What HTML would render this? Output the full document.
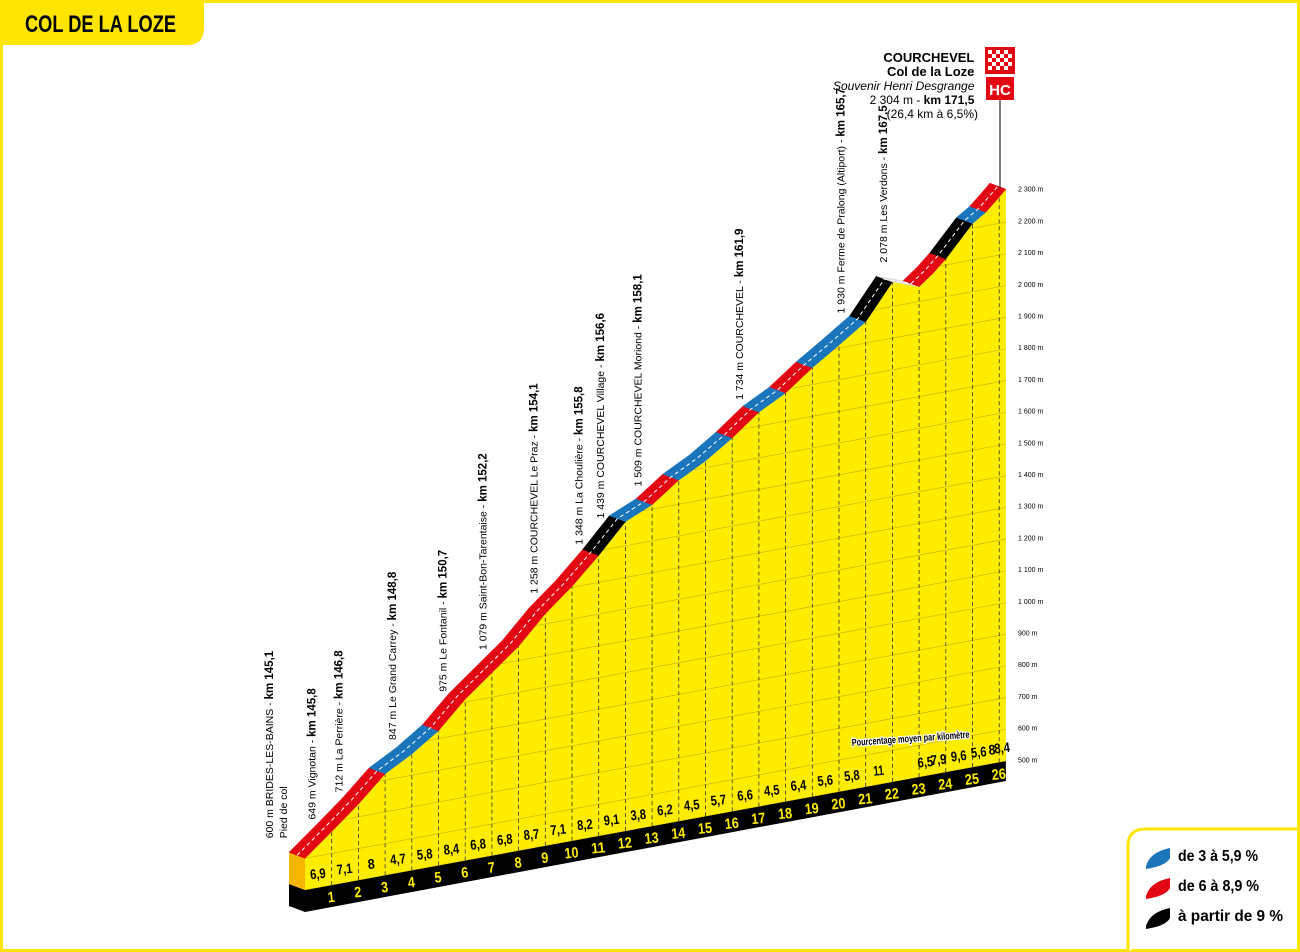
<!DOCTYPE html>
<html><head><meta charset="utf-8"><style>
html,body{margin:0;padding:0;background:#fff;}
svg{display:block;}
text{font-family:"Liberation Sans",sans-serif;}
.n{font-family:"Liberation Sans Narrow","Liberation Sans",sans-serif;font-weight:bold;}
</style></head><body>
<svg id="chart" width="1300" height="952" viewBox="0 0 1300 952" xmlns="http://www.w3.org/2000/svg">
<rect x="1.5" y="1.5" width="1297" height="949" fill="none" stroke="#ffe500" stroke-width="3"/>
<g>
<path d="M0,0 H204 V28 Q204,45 187,45 H0 Z" fill="#ffe500"/>
<text x="25" y="32" class="n" font-size="24" fill="#000" textLength="151" lengthAdjust="spacingAndGlyphs">COL DE LA LOZE</text>
</g>
<g id="profile"></g>
<g id="annot"></g>
<g>
<line x1="1000" y1="100" x2="1000" y2="188" stroke="#000" stroke-width="1"/>
<g>
<rect x="985" y="47" width="30" height="27" fill="#e30613"/>
<g fill="#fff">
<rect x="988" y="50" width="4" height="4"/><rect x="996" y="50" width="4" height="4"/><rect x="1004" y="50" width="4" height="4"/>
<rect x="992" y="54" width="4" height="4"/><rect x="1000" y="54" width="4" height="4"/><rect x="1008" y="54" width="4" height="4"/>
<rect x="988" y="58" width="4" height="4"/><rect x="996" y="58" width="4" height="4"/><rect x="1004" y="58" width="4" height="4"/>
<rect x="992" y="62" width="4" height="4"/><rect x="1000" y="62" width="4" height="4"/><rect x="1008" y="62" width="4" height="4"/>
<rect x="988" y="66" width="4" height="4"/><rect x="996" y="66" width="4" height="4"/><rect x="1004" y="66" width="4" height="4"/>
</g>
</g>
<g>
<rect x="986" y="77" width="28" height="23" fill="#e30613"/>
<text x="1000" y="95" text-anchor="middle" class="n" font-size="15" fill="#fff">HC</text>
</g>
<text text-anchor="end" font-size="13">
<tspan x="978" y="62" font-weight="bold">COURCHEVEL</tspan>
<tspan x="978" y="76" font-weight="bold">Col de la Loze</tspan>
<tspan x="978" y="90" font-style="italic" font-size="12">Souvenir Henri Desgrange</tspan>
<tspan x="978" y="104" font-size="12">2 304 m - <tspan font-weight="bold">km 171,5</tspan></tspan>
<tspan x="978" y="118" font-size="12">(26,4 km à 6,5%)</tspan>
</text>
</g>
<g>
<path d="M1128,952 V846 Q1128,829 1146,829 H1300" fill="#fff" stroke="#ffe500" stroke-width="3"/>
<path d="M1146,866 Q1150,852 1170,848 L1170,858 Q1166,866 1146,869 Z" fill="#1b75bb"/>
<text x="1178" y="861" class="n" font-size="16" textLength="80" lengthAdjust="spacingAndGlyphs">de 3 à 5,9 %</text>
<path d="M1146,896 Q1150,882 1170,878 L1170,888 Q1166,896 1146,899 Z" fill="#e30613"/>
<text x="1178" y="891" class="n" font-size="16" textLength="81" lengthAdjust="spacingAndGlyphs">de 6 à 8,9 %</text>
<path d="M1146,926 Q1150,912 1170,908 L1170,918 Q1166,926 1146,929 Z" fill="#000"/>
<text x="1178" y="921" class="n" font-size="16" textLength="105" lengthAdjust="spacingAndGlyphs">à partir de 9 %</text>
</g>
</svg>
<script>
// ---- data ----
const segLengths = [1,1,1,1,1,1,1,1,1,1,1,1,1,1,1,1,1,1,1,1,1,1,1,0.5,0.5,1,0.5,0.5,0.25];
const segGrades  = [6.9,7.1,8,4.7,5.8,8.4,6.8,6.8,8.7,7.1,8.2,9.1,3.8,6.2,4.5,5.7,6.6,4.5,6.4,5.6,5.8,11,-3,6.5,7.9,9.6,5.6,8,8.4];
const startElev = 600;
const elevTicks = [500,600,700,800,900,1000,1100,1200,1300,1400,1500,1600,1700,1800,1900,2000,2100,2200,2300];
const kmTicks = [1,2,3,4,5,6,7,8,9,10,11,12,13,14,15,16,17,18,19,20,21,22,23,24,25,26];
const places = [
 ["600 m BRIDES-LES-BAINS - ","km 145,1",0,"Pied de col"],
 ["649 m Vignotan - ","km 145,8",0.7,""],
 ["712 m La Perrière - ","km 146,8",1.7,""],
 ["847 m Le Grand Carrey - ","km 148,8",3.7,""],
 ["975 m Le Fontanil - ","km 150,7",5.6,""],
 ["1 079 m Saint-Bon-Tarentaise - ","km 152,2",7.1,""],
 ["1 258 m COURCHEVEL Le Praz - ","km 154,1",9.0,""],
 ["1 348 m La Choulière - ","km 155,8",10.7,""],
 ["1 439 m COURCHEVEL Village - ","km 156,6",11.5,""],
 ["1 509 m COURCHEVEL Moriond - ","km 158,1",12.9,""],
 ["1 734 m COURCHEVEL - ","km 161,9",16.7,""],
 ["1 930 m Ferme de Pralong (Altiport) - ","km 165,7",20.5,""],
 ["2 078 m Les Verdons - ","km 167,5",22.1,""]
];
// ---- scales ----
const X0=305, PXKM=26.7, YB0=890, SLOPE=0.184, PXM=0.317, OX=-16, OY=-6;
const kx = d => X0 + d*PXKM;
const yb = x => YB0 - (x-X0)*SLOPE;
const ye = (d,e) => yb(kx(d)) - (e-500)*PXM;
const NS="http://www.w3.org/2000/svg";
function mk(tag, attrs, parent){const el=document.createElementNS(NS,tag);for(const k in attrs)el.setAttribute(k,attrs[k]);parent.appendChild(el);return el;}
const g=document.getElementById('profile');
const pts=[[0,startElev]]; let d=0,e=startElev;
for(let i=0;i<segLengths.length;i++){d+=segLengths[i];e+=segLengths[i]*segGrades[i]*10;pts.push([d,e]);}
const D=d;
const P=pts.map(p=>[kx(p[0]),ye(p[0],p[1])]);
const xe=kx(D);
const base=mk('polygon',{points:`${X0},${yb(X0)} ${xe},${yb(xe)} ${xe},${yb(xe)+20} ${X0},${yb(X0)+22} ${X0+OX},${yb(X0)+22+OY} ${X0+OX},${yb(X0)+OY}`,fill:'#000'},g);


const side=mk('polygon',{points:`${X0},${P[0][1]} ${X0},${yb(X0)} ${X0+OX},${yb(X0)+OY} ${X0+OX},${P[0][1]+OY}`,fill:'#f7b500'},g);


let facePts=P.map(p=>p.join(',')).join(' ')+` ${xe},${yb(xe)} ${X0},${yb(X0)}`;
const defs=mk('defs',{},g);
const cp=mk('clipPath',{id:'faceclip'},defs);
mk('polygon',{points:facePts},cp);
const face=mk('polygon',{points:facePts,fill:'#ffed00'},g);


const grid=mk('g',{'clip-path':'url(#faceclip)'},g);
elevTicks.forEach(t=>{
 const l=mk('line',{x1:X0,y1:yb(X0)-(t-500)*PXM,x2:xe,y2:yb(xe)-(t-500)*PXM,stroke:'#c9b800','stroke-width':0.7},grid);
 
 
});
kmTicks.forEach(k=>{ if(k>D) return;
 const x=kx(k);
 const l=mk('line',{x1:x,y1:yb(x),x2:x,y2:150,stroke:'#333','stroke-width':0.8,'stroke-dasharray':'4,3'},grid);
 
 
});
for(let i=0;i<segGrades.length;i++){
 const gr=segGrades[i];
 const col= gr<0?'#ddd': gr>=9?'#000': gr>=6?'#e30613': gr>=3?'#1b75bb':'#bbb';
 const a=P[i],b=P[i+1];
 const s=mk('polygon',{points:`${a[0]},${a[1]} ${b[0]},${b[1]} ${b[0]+OX},${b[1]+OY} ${a[0]+OX},${a[1]+OY}`,fill:col,stroke:col,'stroke-width':0.5},g);
 
 
}
const cl=mk('polyline',{points:P.map(p=>(p[0]+OX/2)+','+(p[1]+OY/2)).join(' '),fill:'none',stroke:'#fff','stroke-width':1,'stroke-dasharray':'4,3'},g);


let acc=0;
for(let i=0;i<segGrades.length;i++){
 const mid=acc+segLengths[i]/2; acc+=segLengths[i];
 if(segGrades[i]<0) continue;
 const x=kx(mid), y=yb(x)-9;
 const txt=String(segGrades[i]).replace('.',',');
 const t=mk('text',{x:x,y:y,'text-anchor':'middle','font-size':14,class:'n',textLength:txt.length>1?txt.length*5.2:7,lengthAdjust:'spacingAndGlyphs',transform:`rotate(-6 ${x} ${y})`},g);
 t.textContent=txt;
 
 
}
kmTicks.forEach(k=>{
 const x=kx(k), y=yb(x)+17;
 const s=String(k);
 const t=mk('text',{x:x,y:y,'text-anchor':'middle','font-size':15,fill:'#ffed00',class:'n',textLength:s.length*7,lengthAdjust:'spacingAndGlyphs',transform:`rotate(-6 ${x} ${y})`},g);
 t.textContent=s;
 
 
});
elevTicks.forEach(t=>{
 const y=yb(1010)-(t-500)*PXM+2;
 const tx=mk('text',{x:1018,y:y,'font-size':7,fill:'#000'},g);
 tx.textContent=(t>=1000?String(t).replace(/(\d)(\d{3})$/,'$1 $2'):t)+' m';
 
 
});
const pc=mk('text',{x:852,y:746,'font-size':10,class:'n',stroke:'#fff','stroke-width':2.5,'paint-order':'stroke',textLength:118,lengthAdjust:'spacingAndGlyphs',transform:'rotate(-4 852 746)'},g);
pc.textContent='Pourcentage moyen par kilomètre';


const an=document.getElementById('annot');
places.forEach((p,i)=>{
 const dd=p[2];
 let el=startElev; let a2=0;
 for(let j=0;j<segLengths.length;j++){ if(a2+segLengths[j]<=dd){el+=segLengths[j]*segGrades[j]*10;a2+=segLengths[j];} else {el+=(dd-a2)*segGrades[j]*10;break;} }
 const x=kx(dd)+(i===0?-32:-8), y=ye(dd,el)-20;
 const t=mk('text',{x:x,y:y,'font-size':10.5,transform:`rotate(-90 ${x} ${y})`},an);
 
 
 const t1=mk('tspan',{},t); t1.textContent=p[0];
 const t2=mk('tspan',{'font-weight':'bold','font-size':11.5},t); t2.textContent=p[1];
 if(p[3]){const x2=x+14;const s=mk('text',{x:x2,y:y,'font-size':10.5,transform:`rotate(-90 ${x2} ${y})`},an);s.textContent=p[3];
  
  }
});
</script>
</body></html>
